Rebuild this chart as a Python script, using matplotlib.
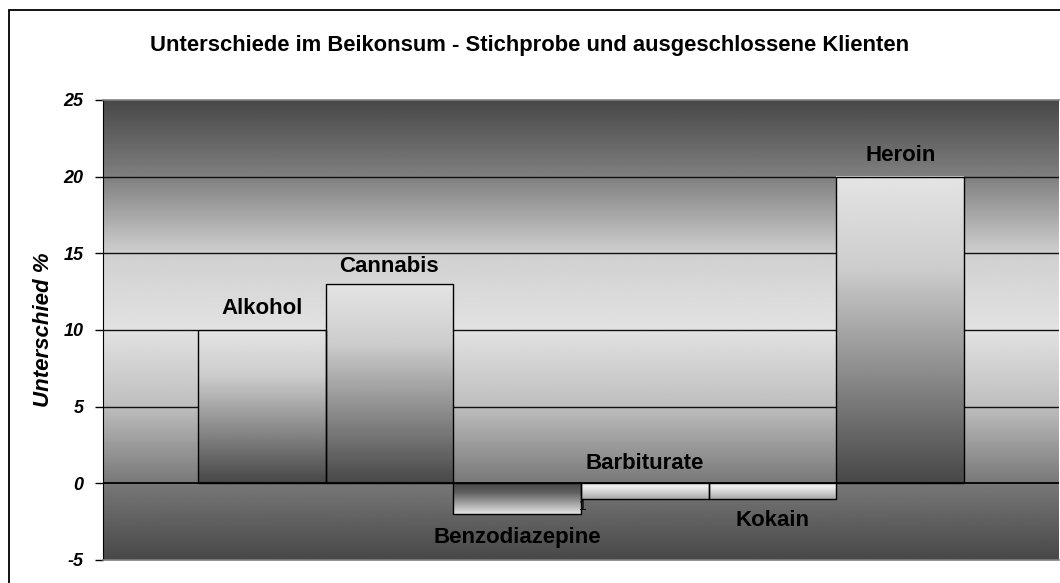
import numpy as np
import matplotlib
matplotlib.use('Agg')
import matplotlib.pyplot as plt
from matplotlib.patches import Rectangle

plt.rcParams['font.family'] = ['Liberation Sans', 'DejaVu Sans']
plt.rcParams['axes.unicode_minus'] = False

# data
categories = ['Alkohol', 'Cannabis', 'Benzodiazepine', 'Barbiturate', 'Kokain', 'Heroin']
differences = [10, 13, -2, -1, -1, 20]
y_ticks = [-5, 0, 5, 10, 15, 20, 25]

title = 'Unterschiede im Beikonsum - Stichprobe und ausgeschlossene Klienten'
y_label = 'Unterschied %'

# label offsets in pixels (Excel data label placement)
label_offsets = [22, 18, -23, 20, -22, 21]
# bar gradient (gray at top, gray at bottom)
bar_shades = [(228, 72), (228, 72), (72, 228), (244, 168), (244, 168), (228, 72)]

fig = plt.figure(figsize=(10.6, 5.83), dpi=100)
W, H = 1060, 583
ax = fig.add_axes([103 / W, 1 - 560 / H, (1059 - 103) / W, (560 - 100) / H])

x = np.arange(len(categories))
xlim = (-0.5 - 95 / 128, len(categories) - 0.5 + 95 / 128)
ylim = (-5, 25)

# background gradient: dark at the edges, light in the middle
yy = np.linspace(ylim[0], ylim[1], 400)
gray = np.interp(yy, [-5, 0, 5, 10, 15, 20, 25], [72, 120, 190, 226, 208, 128, 72]) / 255
bg = np.repeat(gray[:, None], 2, axis=1)
ax.imshow(bg, cmap='gray', vmin=0, vmax=1, origin='lower', aspect='auto',
          extent=(xlim[0], xlim[1], ylim[0], ylim[1]), zorder=0, interpolation='bilinear')

for t in [5, 10, 15, 20]:
    ax.axhline(t, color='#111111', lw=1, zorder=1)

bars = ax.bar(x, differences, width=1.0, facecolor='none', edgecolor='black', lw=1, zorder=3)

for bar, (top, bottom) in zip(bars, bar_shades):
    x0 = bar.get_x()
    y0 = bar.get_y()
    h = bar.get_height()
    lo, hi = min(y0, y0 + h), max(y0, y0 + h)
    t = np.linspace(0, 1, 200)
    g = np.interp(t, [0, 0.3, 1], [top, top - 0.15 * (top - bottom), bottom]) / 255
    img = np.repeat(g[::-1][:, None], 2, axis=1)
    ax.imshow(img, cmap='gray', vmin=0, vmax=1, origin='lower', aspect='auto',
              extent=(x0, x0 + bar.get_width(), lo, hi), zorder=2, interpolation='bilinear')

ax.axhline(0, color='black', lw=1.3, zorder=4)

for xi, val, name, off in zip(x, differences, categories, label_offsets):
    anchor = val if (off > 0) == (val > 0) else 0
    ax.annotate(name, (xi, anchor), xytext=(0, off), textcoords='offset pixels',
                ha='center', va='center', fontsize=16, fontweight='bold', zorder=5)

# stray label next to the Benzodiazepine bar
ax.annotate('1', (x[2] + 0.5, differences[2]), xytext=(2, 8), textcoords='offset pixels',
            ha='center', va='center', fontsize=10, zorder=5)

ax.set_xlim(xlim)
ax.set_ylim(ylim)
ax.set_xticks([])
ax.set_yticks(y_ticks)
ax.set_yticklabels([str(v) for v in y_ticks], fontsize=13, fontweight='bold', fontstyle='italic')
ax.tick_params(axis='y', length=6, width=1, pad=8, color='black')
ax.set_ylabel(y_label, fontsize=16, fontweight='bold', fontstyle='italic', labelpad=7)

ax.spines['left'].set_color('black')
ax.spines['top'].set_color('#808080')
ax.spines['bottom'].set_color('#808080')
ax.spines['right'].set_visible(False)
ax.spines['top'].set_linewidth(1.2)
ax.spines['bottom'].set_linewidth(1.2)

fig.text(530 / W, 1 - 45 / H, title, ha='center', va='center', fontsize=15.8, fontweight='bold')

# chart border (cut off at right and bottom like the source)
fig.patches.append(Rectangle((9 / W, -0.05), 1.2, 1 - 10 / H + 0.05, transform=fig.transFigure,
                             fill=False, edgecolor='black', lw=1.3))

fig.savefig('out.png', dpi=100)
